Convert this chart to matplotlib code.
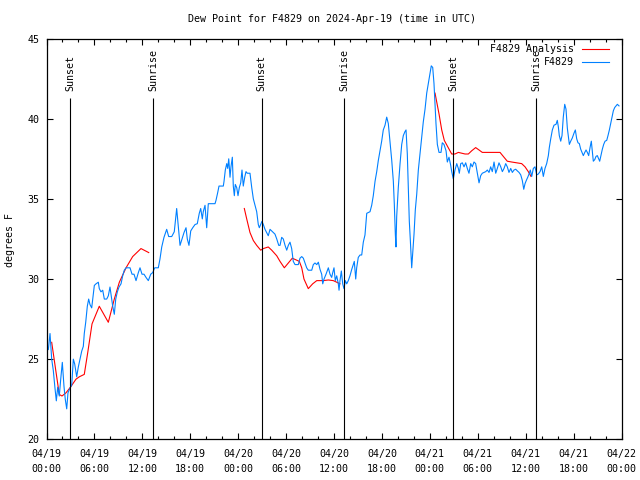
import matplotlib
matplotlib.use("Agg")
import matplotlib.pyplot as plt
import numpy as np
from matplotlib.ticker import MultipleLocator

plt.rcParams['font.family'] = ['DejaVu Sans Mono']
FS = 7.2

# hours since 2024-04-19 00:00 UTC
obs_hours = [
    0.23, 0.44, 0.65, 0.85, 1.06, 1.23, 1.40, 1.60, 1.78, 1.98,
    2.19, 2.35, 2.53, 2.69, 2.86, 3.16, 3.36, 3.53, 3.78, 3.98,
    4.19, 4.41, 4.61, 4.73, 4.91, 5.11, 5.28, 5.45, 5.66, 5.79,
    5.99, 6.20, 6.49, 6.61, 6.82, 7.04, 7.24, 7.54, 7.74, 7.95,
    8.11, 8.29, 8.49, 8.67, 8.87, 9.08, 9.33, 9.54, 9.74, 9.96,
    10.46, 10.71, 10.96, 11.21, 11.50, 11.71, 11.96, 12.21, 12.46, 12.75,
    13.05, 13.30, 13.55, 14.00, 14.21, 14.43, 14.71, 15.05, 15.30, 15.68,
    16.00, 16.30, 16.50, 16.72, 16.97, 17.22, 17.47, 17.63, 17.84, 18.06,
    18.31, 18.60, 18.88, 19.13, 19.31, 19.51, 19.63, 19.85, 20.06, 20.26,
    21.10, 21.22, 21.44, 21.60, 22.14, 22.23, 22.39, 22.57, 22.69, 22.82,
    22.98, 23.10, 23.27, 23.39, 23.52, 23.64, 23.82, 23.98, 24.14, 24.32,
    24.48, 24.64, 24.82, 24.98, 25.14, 25.48, 25.70, 25.90, 26.11, 26.32,
    26.52, 26.65, 26.82, 26.98, 27.15, 27.36, 27.57, 27.77, 27.99, 28.20,
    28.40, 28.61, 28.83, 29.08, 29.24, 29.45, 29.65, 29.87, 30.08, 30.28,
    30.49, 30.70, 30.90, 31.12, 31.53, 31.74, 31.96, 32.16, 32.37, 32.58,
    32.78, 33.21, 33.41, 33.62, 33.84, 34.04, 34.25, 34.46, 34.59, 34.75,
    35.00, 35.29, 35.50, 35.71, 35.84, 36.00, 36.16, 36.34, 36.54, 36.63,
    36.75, 36.92, 37.09, 37.25, 37.42, 37.59, 37.79, 38.00, 38.22, 38.42,
    38.54, 38.72, 38.84, 39.04, 39.26, 39.47, 39.67, 39.88, 40.10, 40.51,
    40.72, 40.92, 41.14, 41.35, 41.55, 41.76, 41.97, 42.17, 42.39, 42.60,
    42.80, 43.01, 43.23, 43.43, 43.55, 43.68, 43.76, 43.85, 44.05, 44.27,
    44.48, 44.68, 44.89, 45.02, 45.18, 45.30, 45.43, 45.56, 45.73, 45.86,
    46.02, 46.18, 46.36, 46.56, 46.77, 46.98, 47.18, 47.40, 47.61, 47.81,
    48.02, 48.18, 48.36, 48.52, 48.65, 48.77, 48.94, 49.15, 49.40, 49.56,
    49.77, 50.03, 50.19, 50.40, 50.61, 50.74, 50.94, 51.15, 51.37, 51.57,
    51.69, 51.87, 52.07, 52.28, 52.49, 52.69, 52.90, 53.12, 53.32, 53.53,
    53.74, 53.95, 54.16, 54.37, 54.57, 54.78, 55.00, 55.20, 55.41, 55.62,
    55.82, 56.04, 56.25, 56.45, 56.66, 56.88, 57.08, 57.29, 57.50, 57.70,
    57.91, 58.13, 58.33, 58.54, 58.75, 58.95, 59.17, 59.38, 59.58, 59.76,
    59.92, 60.08, 60.26, 60.42, 60.58, 60.76, 60.96, 61.17, 61.38, 61.58,
    61.80, 62.01, 62.21, 62.42, 62.63, 62.84, 62.96, 63.14, 63.34, 63.55,
    63.80, 63.96, 64.09, 64.21, 64.39, 64.55, 64.71, 64.89, 65.05, 65.22,
    65.39, 65.47, 65.64, 65.84, 66.05, 66.22, 66.39, 66.55, 66.72, 66.89,
    67.06, 67.22, 67.40, 67.56, 67.72, 67.89, 68.06, 68.22, 68.34, 68.47,
    68.65, 68.81, 68.97, 69.15, 69.27, 69.43, 69.60, 69.77, 69.94, 70.15,
    70.31, 70.48, 70.65, 70.81, 70.98, 71.15, 71.31, 71.48, 71.69,
]
obs_dewpt = [
    25.6, 26.6, 25.0, 24.3, 23.2, 22.4, 23.25, 22.7, 23.75, 24.8,
    23.3, 22.5, 21.9, 22.9, 23.1, 23.4, 25.0, 24.7, 23.9, 24.5,
    25.0, 25.5, 25.8, 26.6, 27.3, 28.3, 28.75, 28.4, 28.2, 28.75,
    29.6, 29.7, 29.8, 29.4, 29.2, 29.3, 28.75, 28.75, 28.95, 29.5,
    28.95, 28.3, 27.8, 28.75, 29.2, 29.5, 29.7, 30.2, 30.55, 30.7,
    30.7, 30.3, 30.3, 29.9, 30.4, 30.7, 30.3, 30.3, 30.1, 29.9,
    30.3, 30.4, 30.7, 30.7, 31.25, 32.0, 32.6, 33.1, 32.65, 32.65,
    32.95, 34.4, 33.3, 32.1, 32.5, 32.9, 33.2, 32.5, 32.1, 33.0,
    33.2, 33.4, 33.45, 34.1, 34.4, 33.75, 34.2, 34.6, 33.2, 34.7,
    34.7, 34.9, 35.4, 35.8, 35.8, 36.1, 36.8, 37.2, 36.9, 37.5,
    36.35, 37.0, 37.6, 35.8, 35.2, 35.9, 35.7, 35.2, 35.7, 36.0,
    36.8, 35.8, 36.35, 36.7, 36.6, 36.6, 35.7, 35.0, 34.6, 34.2,
    33.4, 33.2, 33.4, 33.6, 33.4, 33.1, 32.9, 32.7, 33.1, 33.0,
    32.9, 32.8, 32.5, 32.1, 32.1, 32.6, 32.5, 32.1, 31.8, 32.1,
    32.3, 31.9, 31.1, 30.9, 30.9, 31.3, 31.4, 31.3, 31.0, 30.7,
    30.55, 30.55, 30.9, 31.0, 30.9, 31.05, 30.6, 30.3, 29.7, 30.0,
    30.3, 30.7, 30.3, 30.1, 30.4, 30.7, 29.9, 30.2, 29.7, 29.3,
    29.9, 30.5, 29.7, 29.4, 29.9, 29.7, 29.9, 30.2, 30.6, 30.9,
    31.1, 30.0, 30.7, 31.35, 31.5, 31.5, 32.3, 32.75, 34.1, 34.2,
    34.6, 35.2, 36.1, 36.7, 37.4, 38.0, 38.6, 39.3, 39.6, 40.1,
    39.7, 38.6, 37.4, 36.1, 34.7, 32.8, 32.0, 33.9, 35.7, 37.2,
    38.4, 38.95, 39.2, 39.3, 37.8, 35.7, 33.6, 32.4, 30.7, 31.6,
    32.8, 34.3, 35.3, 36.8, 37.8, 38.85, 39.8, 40.6, 41.6, 42.2,
    42.8, 43.3, 43.2, 42.2, 40.9, 39.7, 38.4, 37.9, 37.9, 38.5,
    38.4, 38.0, 37.3, 37.6, 37.1, 36.7, 36.25, 36.8, 37.2, 36.9,
    36.6, 37.2, 37.25, 37.0, 37.25, 36.9, 36.6, 37.2, 37.0, 37.3,
    37.2, 36.6, 36.0, 36.45, 36.6, 36.65, 36.7, 36.8, 36.65, 37.0,
    36.7, 37.3, 36.6, 36.9, 37.25, 37.0, 36.7, 36.9, 37.2, 37.0,
    36.65, 36.9, 36.65, 36.8, 36.85, 36.75, 36.65, 36.5, 36.15, 35.6,
    35.95, 36.15, 36.35, 36.55, 36.8, 36.4, 36.9, 37.0, 36.5, 36.55,
    36.7, 37.0, 36.4, 36.9, 37.2, 37.7, 38.2, 38.75, 39.3, 39.6,
    39.65, 39.9, 39.5, 38.95, 38.6, 38.95, 40.1, 40.9, 40.6, 39.4,
    38.75, 38.4, 38.6, 38.8, 39.1, 39.3, 38.75, 38.5, 38.45, 38.1,
    37.9, 37.7, 37.9, 38.05, 37.9, 37.7, 38.2, 38.6, 38.0, 37.35,
    37.45, 37.65, 37.7, 37.5, 37.35, 37.7, 38.1, 38.4, 38.6, 38.65,
    38.95, 39.3, 39.7, 40.1, 40.5, 40.7, 40.8, 40.9, 40.8,
]

nan = np.nan
ana_hours = [
    0.65, 1.19, 1.60, 1.94, 2.44, 3.07, 3.69, 4.11, 4.73, 5.16,
    5.70, 6.61, 7.74, 8.49, 9.12, 9.96, 10.79, 11.83, 12.80, nan,
    24.77, 25.07, 25.48, 25.90, 26.32, 26.82, 27.15, 27.77, 28.20, 28.83,
    29.24, 29.78, 30.28, 30.78, 31.66, 31.96, 32.24, 32.78, 33.33, 33.84,
    34.66, 35.29, 35.91, 36.34, 36.75, nan,
    48.65, 49.15, 49.49, 49.81, 50.19, 50.74, 51.15, 51.57, 51.99, 52.41,
    52.82, 53.24, 53.74, 54.16, 54.57, 55.12, 55.75, 56.37, 56.79, 57.20,
    57.70, 58.25, 58.88, 59.50, 59.92, 60.33, 60.67,
]
ana_dewpt = [
    26.05, 24.2, 22.8, 22.7, 22.9, 23.3, 23.75, 23.9, 24.05, 25.4,
    27.2, 28.3, 27.3, 28.75, 29.8, 30.7, 31.4, 31.9, 31.65, nan,
    34.4, 33.75, 32.9, 32.4, 32.1, 31.8, 31.9, 32.0, 31.8, 31.45,
    31.1, 30.7, 31.0, 31.3, 31.1, 30.7, 30.0, 29.4, 29.7, 29.9,
    29.9, 29.94, 29.9, 29.8, 29.7, nan,
    41.6, 40.3, 39.3, 38.65, 38.3, 37.8, 37.8, 37.9, 37.85, 37.8,
    37.8, 38.0, 38.2, 38.05, 37.9, 37.9, 37.9, 37.9, 37.9, 37.65,
    37.35, 37.3, 37.25, 37.2, 37.0, 36.7, 36.4,
]

sun_hours = [2.97, 13.37, 26.93, 37.31, 50.95, 61.33]
sun_labels = ["Sunset", "Sunrise", "Sunset", "Sunrise", "Sunset", "Sunrise"]

tick_hours = [0, 6, 12, 18, 24, 30, 36, 42, 48, 54, 60, 66, 72]
tick_labels = ["04/19\n00:00", "04/19\n06:00", "04/19\n12:00", "04/19\n18:00",
               "04/20\n00:00", "04/20\n06:00", "04/20\n12:00", "04/20\n18:00",
               "04/21\n00:00", "04/21\n06:00", "04/21\n12:00", "04/21\n18:00",
               "04/22\n00:00"]

red = "#ff0000"
blue = "#0080ff"

fig = plt.figure(figsize=(6.4, 4.8), dpi=100)
ax = fig.add_axes([46.5 / 640, 40.7 / 480, 575 / 640, 400.7 / 480])

ax.plot(ana_hours, ana_dewpt, color=red, lw=0.8)
ax.plot(obs_hours, obs_dewpt, color=blue, lw=0.8)

ax.vlines(sun_hours, 20, 41.27, color="black", lw=0.8)
for h, lab in zip(sun_hours, sun_labels):
    ax.text(h, 41.7, lab, rotation=90, ha="center", va="bottom", fontsize=FS)

ax.set_xlim(0, 72)
ax.set_ylim(20, 45)
ax.set_xticks(tick_hours)
ax.set_xticklabels(tick_labels, fontsize=FS, linespacing=1.6)
ax.xaxis.set_minor_locator(MultipleLocator(2))
ax.set_yticks(np.arange(20, 46, 5))
ax.tick_params(axis="both", which="both", direction="in", top=True, right=True, width=0.8)
ax.tick_params(axis="both", which="major", length=4)
ax.tick_params(axis="both", which="minor", length=2)
ax.tick_params(axis="x", pad=7)
ax.tick_params(axis="y", labelsize=FS, pad=5)
for s in ax.spines.values():
    s.set_linewidth(0.9)

# legend, gnuplot style (labels right-aligned, sample after)
legend_rows = [("F4829 Analysis", red, 0.9728), ("F4829", blue, 0.9409)]
for lab, col, y in legend_rows:
    ax.text(0.9174, y, lab, transform=ax.transAxes, ha="right", va="center", fontsize=FS)
    ax.plot([0.931, 0.979], [y, y], transform=ax.transAxes, color=col, lw=0.8, clip_on=False)

fig.text(332 / 640, 1 - 19 / 480, "Dew Point for F4829 on 2024-Apr-19 (time in UTC)",
         ha="center", va="center", fontsize=FS)
fig.text(10 / 640, 0.5, "degrees F", rotation=90, ha="center", va="center", fontsize=FS)

plt.savefig("out.png", dpi=100)
